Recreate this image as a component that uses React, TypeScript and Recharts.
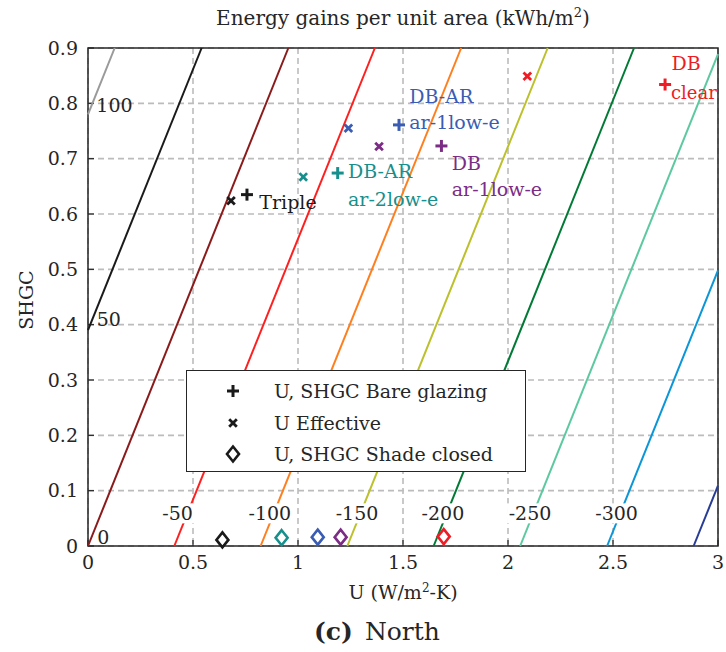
import React from 'react';
import { ComposedChart, Scatter, XAxis, YAxis, CartesianGrid, ReferenceArea } from 'recharts';

const FONT = '"DejaVu Serif", "Liberation Serif", serif';

// axes
const uTicks = [0, 0.5, 1, 1.5, 2, 2.5, 3];
const shgcTicks = [0, 0.1, 0.2, 0.3, 0.4, 0.5, 0.6, 0.7, 0.8, 0.9];

// contour lines of energy gains per unit area (kWh/m2): endpoints
const contourLevels = [100, 50, 0, -50, -100, -150, -200, -250, -300, -350];
const contourStartU = [0, 0, 0, 0.411, 0.822, 1.235, 1.646, 2.058, 2.472, 2.884];
const contourStartSHGC = [0.78, 0.39, 0, 0, 0, 0, 0, 0, 0, 0];
const contourEndU = [0.127, 0.541, 0.954, 1.366, 1.777, 2.189, 2.6, 3, 3, 3];
const contourEndSHGC = [0.9, 0.9, 0.9, 0.9, 0.9, 0.9, 0.9, 0.889, 0.498, 0.109];
const contourColors = ['#9a9a9a', '#1a1a1a', '#8b1a1a', '#ff1f1f', '#ff7f1f', '#bcc02a', '#007a35', '#5cc9a0', '#0a96d8', '#283c96'];

// contour labels
const contourLabelText = ['100', '50', '0', '-50', '-100', '-150', '-200', '-250', '-300'];
const contourLabelU = [0.126, 0.099, 0.073, 0.427, 0.866, 1.281, 1.69, 2.105, 2.517];
const contourLabelSHGC = [0.797, 0.41, 0.017, 0.059, 0.059, 0.059, 0.059, 0.059, 0.059];
const contourLabelBg = [false, false, false, true, true, true, true, true, true];

// glazings
const glazingNames = ['Triple', 'DB-AR ar-2low-e', 'DB-AR ar-1low-e', 'DB ar-1low-e', 'DB clear'];
const glazingColors = ['#1a1a1a', '#178f8c', '#3a5cb3', '#7b2d86', '#ee1c25'];
const bareU = [0.757, 1.189, 1.481, 1.683, 2.748];
const bareSHGC = [0.635, 0.674, 0.761, 0.723, 0.834];
const effU = [0.681, 1.025, 1.24, 1.386, 2.092];
const effSHGC = [0.624, 0.667, 0.755, 0.722, 0.849];
const shadeU = [0.64, 0.922, 1.094, 1.203, 1.694];
const shadeSHGC = [0.011, 0.015, 0.016, 0.016, 0.017];

// glazing annotations
const annotationText = ['Triple', 'DB-AR', 'ar-2low-e', 'DB-AR', 'ar-1low-e', 'DB', 'ar-1low-e', 'DB', 'clear'];
const annotationU = [0.816, 1.238, 1.238, 1.53, 1.53, 1.732, 1.732, 2.779, 2.776];
const annotationSHGC = [0.622, 0.677, 0.628, 0.814, 0.767, 0.693, 0.645, 0.872, 0.82];
const annotationGlazing = [0, 1, 1, 2, 2, 3, 3, 4, 4];
const annotationSize = [19, 19, 19, 19, 19, 19, 19, 19, 18];

const legendLabels = ['U, SHGC Bare glazing', 'U Effective', 'U, SHGC Shade closed'];
const legendMarkers = ['plus', 'cross', 'diamond'];

const markerPath = (kind: string, x: number, y: number, color: string) => {
  if (kind === 'plus') {
    return (
      <g stroke={color} strokeWidth={3} fill="none">
        <line x1={x - 6} y1={y} x2={x + 6} y2={y} />
        <line x1={x} y1={y - 6} x2={x} y2={y + 6} />
      </g>
    );
  }
  if (kind === 'cross') {
    return (
      <g stroke={color} strokeWidth={2.8} fill="none">
        <line x1={x - 3.8} y1={y - 3.8} x2={x + 3.8} y2={y + 3.8} />
        <line x1={x - 3.8} y1={y + 3.8} x2={x + 3.8} y2={y - 3.8} />
      </g>
    );
  }
  return (
    <path
      d={`M${x},${y - 7.5} L${x + 6},${y} L${x},${y + 7.5} L${x - 6},${y} Z`}
      stroke={color}
      strokeWidth={2.6}
      fill="none"
    />
  );
};

const contourData = contourLevels.map((lvl, i) => ({
  level: lvl,
  color: contourColors[i],
  pts: [
    { u: contourStartU[i], s: contourStartSHGC[i] },
    { u: contourEndU[i], s: contourEndSHGC[i] },
  ],
}));

const contourLabelData = contourLabelText.map((t, i) => ({
  u: contourLabelU[i],
  s: contourLabelSHGC[i],
  text: t,
  bg: contourLabelBg[i],
}));

const annotationData = annotationText.map((t, i) => ({
  u: annotationU[i],
  s: annotationSHGC[i],
  text: t,
  size: annotationSize[i],
  color: glazingColors[annotationGlazing[i]],
}));

const mk = (us: number[], ss: number[]) =>
  us.map((u, i) => ({ u, s: ss[i], color: glazingColors[i], name: glazingNames[i] }));
const bareData = mk(bareU, bareSHGC);
const effData = mk(effU, effSHGC);
const shadeData = mk(shadeU, shadeSHGC);

const Empty = () => <g />;
const blank = () => '';
const tickLineStyle = { stroke: '#262626', strokeWidth: 1.2 };

export default function App() {
  return (
    <div style={{ position: 'absolute', left: 0, top: 0, width: 726, height: 652, background: '#fff', fontFamily: FONT, color: '#262626' }}>
      <ComposedChart width={726} height={652} margin={{ top: 48, right: 8, bottom: 76, left: 28 }}>
        <CartesianGrid stroke="#bcbcbc" strokeDasharray="6 4" strokeWidth={1.6} />
        <XAxis
          type="number"
          dataKey="u"
          domain={[0, 3]}
          ticks={uTicks}
          interval={0}
          height={30}
          tickLine={tickLineStyle}
          tickSize={-6}
          axisLine={false}
          tickMargin={16}
          tick={{ fill: '#262626', fontSize: 19, fontFamily: FONT }}
        />
        <XAxis
          xAxisId="top"
          orientation="top"
          type="number"
          domain={[0, 3]}
          ticks={uTicks}
          interval={0}
          height={0}
          tickLine={tickLineStyle}
          tickSize={-6}
          axisLine={false}
          tickFormatter={blank}
        />
        <YAxis
          type="number"
          dataKey="s"
          domain={[0, 0.9]}
          ticks={shgcTicks}
          interval={0}
          width={60}
          tickLine={tickLineStyle}
          tickSize={-6}
          axisLine={false}
          tickMargin={16}
          tick={{ fill: '#262626', fontSize: 19, fontFamily: FONT }}
        />
        <YAxis
          yAxisId="right"
          orientation="right"
          type="number"
          domain={[0, 0.9]}
          ticks={shgcTicks}
          interval={0}
          width={0}
          tickLine={tickLineStyle}
          tickSize={-6}
          axisLine={false}
          tickFormatter={blank}
        />
        {contourData.map((c) => (
          <Scatter
            key={'c' + c.level}
            data={c.pts}
            dataKey="s"
            line={{ stroke: c.color, strokeWidth: 2 }}
            lineType="joint"
            shape={Empty}
            isAnimationActive={false}
          />
        ))}
        <Scatter
          data={contourLabelData}
          dataKey="s"
          isAnimationActive={false}
          shape={(p: any) => {
            const t = p.payload.text;
            const w = t.length * 11 + 2;
            return (
              <g>
                {p.payload.bg && <rect x={p.cx - w / 2} y={p.cy - 10} width={w} height={20} fill="#fff" />}
                <text x={p.cx} y={p.cy} textAnchor="middle" dominantBaseline="central" fontSize={19} fontFamily={FONT} fill="#262626">
                  {t}
                </text>
              </g>
            );
          }}
        />
        <Scatter
          data={annotationData}
          dataKey="s"
          isAnimationActive={false}
          shape={(p: any) => (
            <text x={p.cx} y={p.cy} textAnchor="start" dominantBaseline="central" fontSize={p.payload.size} fontFamily={FONT} fill={p.payload.color}>
              {p.payload.text}
            </text>
          )}
        />
        <Scatter data={effData} dataKey="s" isAnimationActive={false} shape={(p: any) => markerPath('cross', p.cx, p.cy, p.payload.color)} />
        <Scatter data={bareData} dataKey="s" isAnimationActive={false} shape={(p: any) => markerPath('plus', p.cx, p.cy, p.payload.color)} />
        <Scatter data={shadeData} dataKey="s" isAnimationActive={false} shape={(p: any) => markerPath('diamond', p.cx, p.cy, p.payload.color)} />
        <ReferenceArea x1={0} x2={3} y1={0} y2={0.9} fill="none" fillOpacity={0} stroke="#262626" strokeWidth={1.5} ifOverflow="visible" />
      </ComposedChart>

      {/* title */}
      <div style={{ position: 'absolute', left: 88, width: 630, top: 6, textAlign: 'center', fontSize: 20, lineHeight: '24px' }}>
        Energy gains per unit area (kWh/m<sup style={{ fontSize: 13, lineHeight: 0 }}>2</sup>)
      </div>

      {/* x label */}
      <div style={{ position: 'absolute', left: 88, width: 630, top: 580, textAlign: 'center', fontSize: 19, lineHeight: '24px' }}>
        U (W/m<sup style={{ fontSize: 12, lineHeight: 0 }}>2</sup>-K)
      </div>

      {/* y label */}
      <div
        style={{
          position: 'absolute',
          left: 26 - 40,
          top: 300 - 12,
          width: 80,
          height: 24,
          lineHeight: '24px',
          textAlign: 'center',
          fontSize: 19,
          transform: 'rotate(-90deg)',
        }}
      >
        SHGC
      </div>

      {/* caption */}
      <div style={{ position: 'absolute', left: 314, top: 615, fontSize: 25, lineHeight: '34px', whiteSpace: 'nowrap' }}>
        <b>(c)</b>
        <span style={{ marginLeft: 12 }}>North</span>
      </div>

      {/* legend */}
      <div
        style={{
          position: 'absolute',
          left: 186,
          top: 370,
          width: 340,
          height: 102,
          border: '1.5px solid #262626',
          background: '#fff',
          boxSizing: 'border-box',
        }}
      >
        {legendLabels.map((lab, i) => (
          <div key={lab} style={{ position: 'absolute', left: 0, top: 20 + i * 31.5 - 14, height: 28, width: 338 }}>
            <svg width={30} height={28} style={{ position: 'absolute', left: 31, top: 0 }}>
              {markerPath(legendMarkers[i], 15, 14, '#1a1a1a')}
            </svg>
            <span style={{ position: 'absolute', left: 87, top: 0, lineHeight: '28px', fontSize: 19, whiteSpace: 'nowrap' }}>{lab}</span>
          </div>
        ))}
      </div>
    </div>
  );
}
